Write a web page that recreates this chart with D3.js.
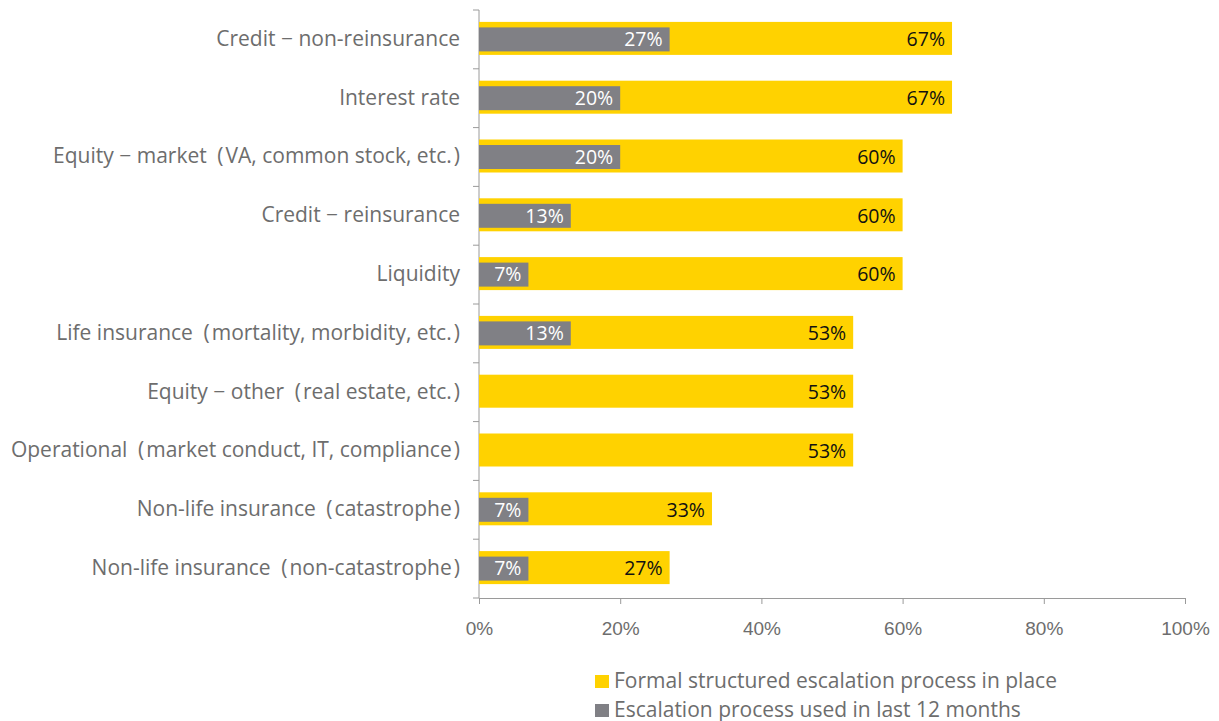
<!DOCTYPE html>
<html>
<head>
<meta charset="utf-8">
<script src="https://cdn.jsdelivr.net/npm/d3@7"></script>
<style>
  html, body { margin: 0; padding: 0; background: #fff; }
  svg { display: block; font-family: "Open Sans", "Noto Sans", sans-serif; }
</style>
</head>
<body>
<svg id="chart" width="1219" height="721"></svg>
<script>
// Risk categories, top to bottom
const categories = [
  "Credit \u2212 non-reinsurance",
  "Interest rate",
  "Equity \u2212 market (VA, common stock, etc.)",
  "Credit \u2212 reinsurance",
  "Liquidity",
  "Life insurance (mortality, morbidity, etc.)",
  "Equity \u2212 other (real estate, etc.)",
  "Operational (market conduct, IT, compliance)",
  "Non-life insurance (catastrophe)",
  "Non-life insurance (non-catastrophe)"
];
// Percent of respondents with a formal structured escalation process
const formalProcess = [67, 67, 60, 60, 60, 53, 53, 53, 33, 27];
// Percent that used the escalation process in the last 12 months (null = none)
const usedLast12 = [27, 20, 20, 13, 7, 13, null, null, 7, 7];
const xTicks = [0, 20, 40, 60, 80, 100];
const seriesNames = ["Formal structured escalation process in place", "Escalation process used in last 12 months"];

const YELLOW = "#FFD200";
const GRAY = "#808085";
const AXIS = "#9a9a9a";
const TEXT = "#6d6d6d";

// Wide-set parentheses for the category labels
const padParens = s => s.replace(" (", "\u2002(\u200A").replace(")", "\u200A)");

const svg = d3.select("#chart");
const m = { left: 479, right: 1185, top: 10, bottom: 598 };

const x = d3.scaleLinear().domain([0, 100]).range([m.left, m.right]);
const y = d3.scaleBand().domain(categories).range([m.top, m.bottom]);

// Horizontal axis
const xAxis = svg.append("g")
  .attr("transform", `translate(0,${m.bottom})`)
  .call(d3.axisBottom(x).tickValues(xTicks).tickFormat(d => d + "%").tickSize(6).tickSizeOuter(0).tickPadding(18));
xAxis.select(".domain").attr("stroke", AXIS);
xAxis.selectAll(".tick line").attr("stroke", AXIS);
xAxis.selectAll(".tick text").attr("fill", TEXT).attr("font-size", 19).attr("dy", "0.71em");

// Vertical axis with ticks between categories
const yAxis = svg.append("g").attr("transform", `translate(${m.left},0)`);
yAxis.append("line")
  .attr("x1", 0).attr("x2", 0).attr("y1", m.top).attr("y2", m.bottom)
  .attr("stroke", AXIS);
const boundaries = d3.range(categories.length + 1).map(i => m.top + i * y.step());
yAxis.selectAll("line.sep").data(boundaries).join("line")
  .attr("class", "sep")
  .attr("x1", -6).attr("x2", 0)
  .attr("y1", d => d).attr("y2", d => d)
  .attr("stroke", AXIS);
yAxis.selectAll("text").data(categories).join("text")
  .attr("x", -19)
  .attr("y", d => y(d) + y.bandwidth() / 2 - 1)
  .attr("dy", "0.35em")
  .attr("text-anchor", "end")
  .attr("fill", TEXT)
  .attr("font-size", 21)
  .text(d => padParens(d));

// Formal process bars (yellow, behind)
const yellowH = 33, grayH = 24;
const rows = categories.map((c, i) => ({ c, f: formalProcess[i], u: usedLast12[i] }));

svg.append("g").selectAll("rect").data(rows).join("rect")
  .attr("x", x(0))
  .attr("y", d => y(d.c) + y.bandwidth() / 2 - yellowH / 2 - 1)
  .attr("width", d => x(d.f) - x(0))
  .attr("height", yellowH)
  .attr("fill", YELLOW);

svg.append("g").selectAll("rect").data(rows.filter(d => d.u != null)).join("rect")
  .attr("x", x(0))
  .attr("y", d => y(d.c) + y.bandwidth() / 2 - grayH / 2)
  .attr("width", d => x(d.u) - x(0))
  .attr("height", grayH)
  .attr("fill", GRAY);

// Value labels
svg.append("g").selectAll("text").data(rows).join("text")
  .attr("x", d => x(d.f) - 7)
  .attr("y", d => y(d.c) + y.bandwidth() / 2)
  .attr("dy", "0.35em")
  .attr("text-anchor", "end")
  .attr("fill", "#111")
  .attr("font-size", 19.5)
  .attr("font-weight", 500)
  .text(d => d.f + "%");

svg.append("g").selectAll("text").data(rows.filter(d => d.u != null)).join("text")
  .attr("x", d => x(d.u) - 7)
  .attr("y", d => y(d.c) + y.bandwidth() / 2)
  .attr("dy", "0.35em")
  .attr("text-anchor", "end")
  .attr("fill", "#fff")
  .attr("font-size", 19.5)
  .text(d => d.u + "%");

// Legend
const legend = svg.append("g").attr("transform", "translate(595,675)");
const legendColors = [YELLOW, GRAY];
seriesNames.forEach((name, i) => {
  const g = legend.append("g").attr("transform", `translate(0,${i * 29})`);
  g.append("rect").attr("x", 0).attr("y", 0).attr("width", 14).attr("height", 13).attr("fill", legendColors[i]);
  g.append("text").attr("x", 19).attr("y", 12.5)
    .attr("fill", TEXT).attr("font-size", 21).text(name);
});
</script>
</body>
</html>
